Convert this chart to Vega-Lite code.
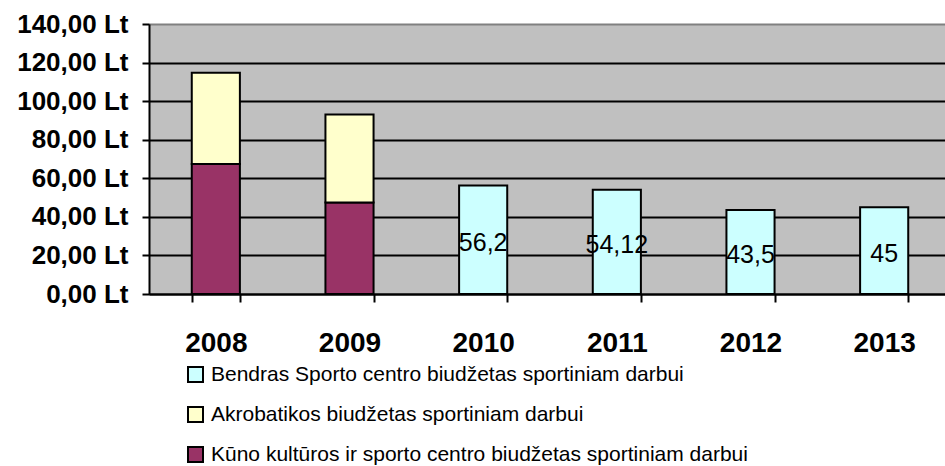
{
  "$schema": "https://vega.github.io/schema/vega-lite/v6.json",
  "width": 802,
  "height": 270,
  "autosize": {"type": "none"},
  "padding": {"left": 149, "top": 24, "right": 0, "bottom": 172},
  "background": "white",
  "config": {
    "font": "Liberation Sans",
    "view": {"fill": "#C0C0C0", "stroke": "#808080", "strokeWidth": 1},
    "locale": {"number": {"decimal": ",", "thousands": ".", "grouping": [3], "currency": ["", " Lt"]}},
    "axisY": {
      "title": null,
      "values": [0, 20, 40, 60, 80, 100, 120, 140],
      "labelExpr": "replace(format(datum.value, '.2f'), '.', ',') + ' Lt'",
      "labelFont": "Liberation Sans",
      "labelFontSize": 26,
      "labelFontWeight": "bold",
      "labelColor": "black",
      "labelPadding": 14,
      "labelOverlap": false,
      "labelBound": false,
      "tickSize": 7,
      "tickWidth": 2,
      "tickColor": "black",
      "domainColor": "black",
      "domainWidth": 2,
      "grid": true,
      "gridColor": "black",
      "gridWidth": 2,
      "gridOpacity": 1
    }
  },
  "data": {
    "values": [
      {"year": "2008", "series": "Kūno kultūros ir sporto centro biudžetas sportiniam darbui", "value": 67.4},
      {"year": "2008", "series": "Akrobatikos biudžetas sportiniam darbui", "value": 47.3},
      {"year": "2009", "series": "Kūno kultūros ir sporto centro biudžetas sportiniam darbui", "value": 47.5},
      {"year": "2009", "series": "Akrobatikos biudžetas sportiniam darbui", "value": 45.6},
      {"year": "2010", "series": "Bendras Sporto centro biudžetas sportiniam darbui", "value": 56.2},
      {"year": "2011", "series": "Bendras Sporto centro biudžetas sportiniam darbui", "value": 54.12},
      {"year": "2012", "series": "Bendras Sporto centro biudžetas sportiniam darbui", "value": 43.5},
      {"year": "2013", "series": "Bendras Sporto centro biudžetas sportiniam darbui", "value": 45}
    ]
  },
  "encoding": {
    "x": {
      "field": "year",
      "type": "nominal",
      "scale": {"paddingInner": 0.64, "paddingOuter": 0.32},
      "axis": {
        "title": null,
        "labelAngle": 0,
        "labelFont": "Liberation Sans",
        "labelFontSize": 28,
        "labelFontWeight": "bold",
        "labelColor": "black",
        "labelPadding": 27,
        "labelOverlap": false,
        "tickBand": "extent",
        "tickSize": 8,
        "tickWidth": 2,
        "tickColor": "black",
        "domainColor": "black",
        "domainWidth": 2,
        "grid": false
      }
    }
  },
  "layer": [
    {
      "mark": {"type": "bar", "stroke": "black", "strokeWidth": 2, "opacity": 1},
      "encoding": {
        "y": {
          "field": "value",
          "type": "quantitative",
          "stack": "zero",
          "scale": {"domain": [0, 140], "nice": false},
          "axis": {
            "gridColor": {"condition": {"test": "datum.value == 140", "value": "#808080"}, "value": "black"}
          }
        },
        "color": {
          "field": "series",
          "type": "nominal",
          "sort": [
            "Bendras Sporto centro biudžetas sportiniam darbui",
            "Akrobatikos biudžetas sportiniam darbui",
            "Kūno kultūros ir sporto centro biudžetas sportiniam darbui"
          ],
          "scale": {
            "domain": [
              "Bendras Sporto centro biudžetas sportiniam darbui",
              "Akrobatikos biudžetas sportiniam darbui",
              "Kūno kultūros ir sporto centro biudžetas sportiniam darbui"
            ],
            "range": ["#CCFFFF", "#FFFFCC", "#993366"]
          },
          "legend": {
            "title": null,
            "orient": "none",
            "legendX": 36,
            "legendY": 340,
            "padding": 0,
            "symbolType": "square",
            "symbolSize": 225,
            "symbolStrokeColor": "black",
            "symbolStrokeWidth": 2,
            "symbolOpacity": 1,
            "labelFont": "Liberation Sans",
            "labelFontSize": 21,
            "labelColor": "black",
            "labelOffset": 5,
            "rowPadding": 17,
            "labelLimit": 0
          }
        }
      }
    },
    {
      "transform": [{"filter": "datum.series == 'Bendras Sporto centro biudžetas sportiniam darbui'"}],
      "mark": {"type": "text", "fontSize": 25, "font": "Liberation Sans", "color": "black", "baseline": "middle", "dy": 3},
      "encoding": {
        "y": {"field": "value", "type": "quantitative", "stack": "zero", "bandPosition": 0.5},
        "text": {"field": "value", "type": "quantitative", "format": "~r"}
      }
    }
  ]
}
